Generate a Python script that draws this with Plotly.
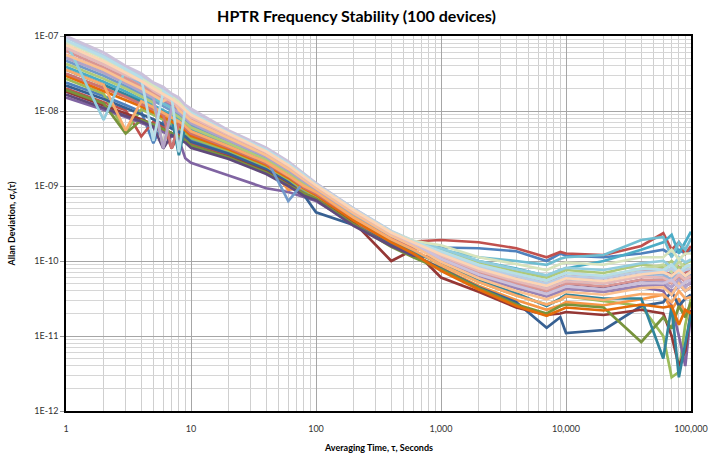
import plotly.graph_objects as go

# Averaging times (seconds)
tau = [1, 2, 3, 4, 5, 6, 7, 8, 9, 10, 20, 40, 60, 80, 100, 200, 400, 600, 1000,
       2000, 4000, 7000, 9000, 10000, 20000, 40000, 60000, 70000, 80000, 90000, 100000]

# Allan deviation of each device, stored as 100*log10(sigma)
dev01 = [-762,-780,-792,-801,-843,-814,-820,-825,-831,-838,-855,-876,-893,-907,-910,-944,-968,-978,-982,-983,-987,-1000,-990,-993,-995,-990,-985,-992,-985,-990,-985]
dev02 = [-770,-788,-799,-834,-814,-821,-850,-831,-837,-844,-859,-879,-896,-910,-915,-945,-970,-974,-972,-975,-983,-995,-988,-990,-992,-980,-963,-985,-975,-990,-980]
dev03 = [-757,-777,-828,-798,-805,-811,-817,-823,-829,-836,-853,-874,-891,-905,-913,-941,-971,-986,-1005,-1028,-1046,-1058,-1052,-1047,-1053,-1060,-1100,-1155,-1148,-1085,-1050]
dev04 = [-782,-798,-808,-816,-822,-828,-833,-838,-863,-869,-886,-903,-908,-915,-920,-950,-978,-990,-999,-1021,-1036,-1047,-1041,-1037,-1041,-1035,-1040,-1060,-1100,-1140,-1070]
dev05 = [-741,-761,-774,-784,-792,-799,-805,-811,-817,-825,-845,-866,-884,-898,-907,-940,-970,-982,-987,-1000,-1010,-1020,-1012,-1010,-1000,-985,-975,-965,-990,-975,-961]
dev06 = [-751,-769,-781,-791,-798,-805,-811,-817,-823,-830,-849,-870,-905,-902,-910,-943,-974,-992,-1009,-1033,-1052,-1065,-1059,-1055,-1059,-1051,-1045,-1065,-1050,-1070,-1060]
dev07 = [-766,-784,-796,-804,-811,-818,-823,-828,-834,-841,-857,-878,-895,-912,-935,-952,-978,-992,-1010,-1035,-1055,-1089,-1075,-1096,-1092,-1060,-1055,-1040,-1060,-1050,-1045]
dev08 = [-774,-792,-803,-811,-818,-824,-829,-834,-840,-847,-861,-881,-898,-911,-918,-948,-1000,-985,-1022,-1041,-1062,-1072,-1070,-1068,-1072,-1065,-1070,-1100,-1140,-1120,-1065]
dev09 = [-772,-790,-830,-812,-818,-824,-829,-834,-839,-846,-862,-882,-899,-910,-917,-951,-981,-995,-1011,-1036,-1058,-1070,-1060,-1058,-1062,-1108,-1075,-1090,-1060,-1075,-1055]
dev10 = [-778,-796,-806,-814,-821,-850,-832,-837,-842,-849,-864,-884,-900,-913,-919,-953,-980,-993,-995,-1015,-1030,-1040,-1033,-1030,-1035,-1025,-1030,-1045,-1030,-1040,-1035]
dev11 = [-745,-765,-778,-787,-795,-802,-808,-859,-820,-827,-847,-868,-886,-900,-908,-943,-972,-988,-1003,-1026,-1043,-1060,-1050,-1045,-1050,-1050,-1130,-1060,-1155,-1110,-1070]
dev12 = [-753,-773,-785,-794,-802,-808,-814,-820,-826,-833,-851,-872,-889,-903,-912,-946,-975,-990,-1013,-1038,-1060,-1073,-1066,-1062,-1066,-1058,-1062,-1060,-1085,-1065,-1070]
dev13 = [-733,-753,-767,-777,-786,-793,-799,-805,-812,-819,-840,-863,-920,-895,-905,-938,-967,-982,-993,-1013,-1027,-1037,-1030,-1027,-1030,-1020,-1022,-1015,-1025,-1020,-1018]
dev14 = [-750,-769,-781,-791,-798,-805,-850,-817,-823,-830,-849,-870,-887,-902,-910,-942,-970,-983,-989,-1008,-1020,-1030,-1022,-1020,-1023,-1014,-1012,-1020,-1008,-1015,-1010]
dev15 = [-737,-757,-770,-781,-789,-848,-802,-808,-815,-822,-843,-865,-882,-897,-906,-938,-966,-978,-985,-1003,-1014,-1022,-1015,-1012,-1016,-1005,-1008,-1000,-1010,-1003,-1000]
dev16 = [-725,-745,-760,-770,-779,-787,-793,-799,-806,-813,-836,-859,-877,-892,-903,-936,-966,-980,-999,-1021,-1036,-1047,-1041,-1037,-1041,-1033,-1032,-1040,-1035,-1033,-1030]
dev17 = [-729,-749,-763,-774,-782,-790,-796,-802,-809,-816,-839,-861,-879,-894,-904,-937,-966,-978,-985,-995,-1000,-1005,-997,-995,-992,-972,-968,-995,-975,-985,-970]
dev18 = [-745,-765,-826,-787,-795,-802,-808,-814,-820,-827,-847,-868,-886,-900,-908,-942,-971,-985,-1005,-1028,-1046,-1058,-1052,-1047,-1052,-1044,-1045,-1055,-1040,-1050,-1048]
dev19 = [-716,-738,-752,-764,-773,-780,-787,-794,-801,-808,-832,-855,-873,-889,-900,-933,-963,-977,-991,-1010,-1024,-1033,-1026,-1023,-1027,-1018,-1018,-1025,-1015,-1020,-1015]
dev20 = [-720,-742,-756,-767,-776,-784,-790,-797,-804,-811,-834,-857,-875,-890,-901,-934,-964,-978,-995,-1016,-1030,-1040,-1034,-1030,-1034,-1025,-1025,-1030,-1020,-1028,-1022]
dev21 = [-712,-734,-749,-760,-770,-777,-784,-791,-798,-805,-830,-854,-872,-887,-899,-932,-962,-976,-987,-1005,-1017,-1026,-1019,-1016,-1020,-1010,-1005,-1015,-1000,-1010,-1005]
dev22 = [-729,-749,-763,-774,-782,-850,-796,-802,-809,-816,-839,-861,-879,-894,-904,-937,-966,-979,-997,-1018,-1033,-1044,-1037,-1034,-1038,-1029,-1028,-1035,-1025,-1035,-1027]
dev23 = [-708,-812,-745,-757,-766,-774,-781,-788,-796,-803,-829,-852,-870,-885,-898,-931,-961,-974,-983,-1000,-1011,-1019,-1012,-1009,-1012,-1003,-1000,-1008,-995,-1002,-998]
dev24 = [-725,-745,-760,-770,-779,-787,-780,-799,-806,-813,-836,-859,-877,-892,-903,-936,-966,-980,-1001,-1023,-1040,-1051,-1044,-1041,-1045,-1036,-1035,-1045,-1030,-1040,-1035]
dev25 = [-702,-726,-742,-753,-763,-771,-778,-785,-793,-800,-827,-850,-868,-884,-897,-930,-960,-973,-989,-1008,-1020,-1030,-1023,-1020,-1023,-1014,-1015,-1010,-1018,-1012,-1010]
dev26 = [-716,-738,-752,-760,-773,-780,-787,-794,-801,-808,-832,-855,-873,-889,-900,-933,-963,-977,-993,-1013,-1027,-1037,-1030,-1027,-1030,-1021,-1022,-1028,-1018,-1025,-1020]
dev27 = [-708,-730,-745,-757,-766,-774,-781,-788,-796,-803,-829,-852,-870,-885,-898,-931,-961,-973,-979,-995,-1004,-1012,-1004,-1002,-1005,-995,-995,-985,-998,-990,-990]
dev28 = [-700,-722,-740,-750,-762,-768,-777,-782,-792,-797,-826,-849,-867,-883,-896,-930,-961,-976,-997,-1018,-1033,-1044,-1037,-1034,-1038,-1029,-1030,-1025,-1035,-1028,-1025]
dev29 = [-706,-728,-744,-756,-840,-774,-781,-855,-796,-803,-829,-852,-870,-885,-898,-931,-961,-974,-987,-1005,-1017,-1026,-1019,-1016,-1020,-1010,-1012,-1005,-1015,-1008,-1005]
dev30 = [-712,-734,-749,-760,-770,-777,-784,-791,-798,-805,-830,-854,-872,-887,-899,-932,-962,-975,-991,-1010,-1024,-1033,-1026,-1023,-1027,-1018,-1015,-1020,-1012,-1020,-1015]

devices = [dev01, dev02, dev03, dev04, dev05, dev06, dev07, dev08, dev09, dev10,
           dev11, dev12, dev13, dev14, dev15, dev16, dev17, dev18, dev19, dev20,
           dev21, dev22, dev23, dev24, dev25, dev26, dev27, dev28, dev29, dev30]

colors = ["#4F81BD", "#C0504D", "#9BBB59", "#8064A2", "#4BACC6", "#F79646",
          "#376092", "#953735", "#77933C", "#604A7B", "#31859C", "#E46C0A",
          "#729ACA", "#CD7371", "#AFC97A", "#9983B5", "#6FBDD1", "#F9AB6B",
          "#95B3D7", "#D99694", "#C3D69B", "#B3A2C7", "#93CDDD", "#FAC090",
          "#B9CDE5", "#E6B9B8", "#D7E4BD", "#CCC1DA", "#B7DEE8", "#FCD5B5"]

x_ticks = [1, 10, 100, 1000, 10000, 100000]
x_labels = ["1", "10", "100", "1,000", "10,000", "100,000"]
y_ticks = [1e-12, 1e-11, 1e-10, 1e-9, 1e-8, 1e-7]
y_labels = ["1E-12", "1E-11", "1E-10", "1E-09", "1E-08", "1E-07"]

# minor gridline positions (2..9 within each decade)
x_minor = [m * 10 ** e for e in range(0, 5) for m in range(2, 10)]
y_minor = [m * 10.0 ** e for e in range(-12, -7) for m in range(2, 10)]

FONT = "Lato, 'Open Sans', sans-serif"

fig = go.Figure()
for vals, col in zip(devices, colors):
    fig.add_trace(go.Scatter(
        x=tau, y=[10 ** (v / 100.0) for v in vals], mode="lines",
        line=dict(color=col, width=2.7), hoverinfo="skip", showlegend=False))

fig.update_layout(
    width=713, height=458, autosize=False,
    margin=dict(l=66, r=22, t=36, b=47, autoexpand=False),
    paper_bgcolor="white", plot_bgcolor="white",
    font=dict(family=FONT, color="#333333"),
    title=dict(text="<b>HPTR Frequency Stability (100 devices)</b>",
               x=0.5, xanchor="center", y=1 - 16 / 458, yref="container",
               yanchor="middle", font=dict(size=16, color="#000000", family=FONT)),
)
fig.update_xaxes(
    type="log", range=[0, 5], tickvals=x_ticks, ticktext=x_labels,
    tickfont=dict(size=9, color="#333333"), ticks="", ticklabelstandoff=8,
    automargin=False,
    showline=True, linecolor="#000000", linewidth=1.5, mirror=True,
    showgrid=True, gridcolor="#A6A6A6", gridwidth=1,
    minor=dict(tickvals=x_minor, showgrid=True, gridcolor="#CFCFCF", gridwidth=1, ticks=""),
    zeroline=False,
)
fig.update_yaxes(
    type="log", range=[-12, -7], tickvals=y_ticks, ticktext=y_labels,
    tickfont=dict(size=9, color="#333333"), ticks="outside", ticklen=4,
    tickcolor="#999999", automargin=False,
    showline=True, linecolor="#000000", linewidth=1.5, mirror=True,
    showgrid=True, gridcolor="#A6A6A6", gridwidth=1,
    minor=dict(tickvals=y_minor, showgrid=True, gridcolor="#D6D6D6", gridwidth=1, ticks=""),
    zeroline=False,
)
fig.add_annotation(text="<b>Averaging Time, τ, Seconds</b>", xref="paper", yref="paper",
                   x=0.5, y=-36 / 375, xanchor="center", yanchor="middle",
                   showarrow=False, font=dict(size=9, color="#000000", family=FONT))
fig.add_annotation(text="<b>Allan Deviation, σ<sub>y</sub>(τ)</b>", xref="paper", yref="paper",
                   x=-55 / 625, y=0.5, xanchor="center", yanchor="middle", textangle=-90,
                   showarrow=False, font=dict(size=9, color="#000000", family=FONT))

fig.write_html("out.html", config={"displayModeBar": False},
               post_script="document.body.style.margin='0';")
